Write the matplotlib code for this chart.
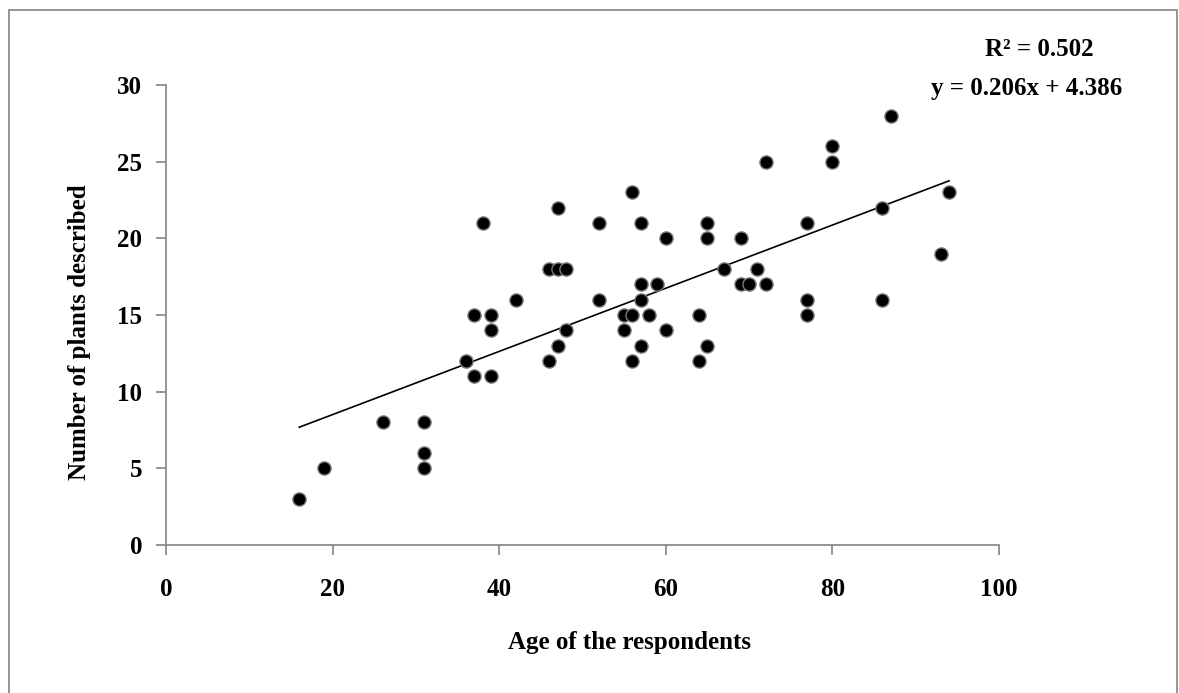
import matplotlib.pyplot as plt
from matplotlib.patches import Rectangle

# age of respondent vs number of plants described
ages = [16, 19, 26, 31, 31, 31, 36, 37, 37, 38, 39, 39, 39, 42,
        46, 47, 48, 47, 46, 47, 48, 52, 52, 55, 55, 56, 56, 56,
        57, 57, 57, 57, 58, 59, 60, 60, 64, 64, 65, 65, 65, 67,
        69, 69, 70, 71, 72, 72, 77, 77, 77, 80, 80, 86, 86, 87, 93, 94]
plants = [3, 5, 8, 8, 6, 5, 12, 11, 15, 21, 15, 14, 11, 16,
          18, 18, 18, 22, 12, 13, 14, 21, 16, 15, 14, 15, 12, 23,
          21, 17, 16, 13, 15, 17, 20, 14, 15, 12, 21, 20, 13, 18,
          20, 17, 17, 18, 25, 17, 21, 16, 15, 26, 25, 22, 16, 28, 19, 23]

slope = 0.206
intercept = 4.386
r2 = 0.502

x_ticks = [0, 20, 40, 60, 80, 100]
y_ticks = [0, 5, 10, 15, 20, 25, 30]

plt.rcParams['font.family'] = ['Liberation Serif', 'DejaVu Serif']
plt.rcParams['font.weight'] = 'bold'

W, H = 1179, 693
fs = 18
fig = plt.figure(figsize=(W / 100, H / 100), dpi=100)
ax = fig.add_axes([166 / W, 1 - 545 / H, (999 - 166) / W, (545 - 85) / H])

# outer frame
fig.patches.append(Rectangle((9 / W, -0.01), (1177 - 9) / W, 1 - 10 / H + 0.01,
                             transform=fig.transFigure, fill=False,
                             edgecolor='#8c8c8c', linewidth=1.3))

xs = [min(ages), max(ages)]
ax.plot(xs, [slope * v + intercept for v in xs], color='black', linewidth=1.2, zorder=2)
ax.scatter(ages, plants, s=90, color='black', edgecolors='#7a7a7a', linewidths=1.0, zorder=3)

ax.set_xlim(0, 100)
ax.set_ylim(0, 30)
ax.set_xticks(x_ticks)
ax.set_yticks(y_ticks)
for s in ['top', 'right']:
    ax.spines[s].set_visible(False)
for s in ['left', 'bottom']:
    ax.spines[s].set_color('#8c8c8c')
    ax.spines[s].set_linewidth(1.3)
ax.tick_params(axis='both', colors='#8c8c8c', labelcolor='black', labelsize=fs,
               length=7, width=1.3, direction='out')
ax.tick_params(axis='x', pad=17)
ax.tick_params(axis='y', pad=10)
for lab in ax.get_xticklabels() + ax.get_yticklabels():
    lab.set_fontweight('bold')

fig.text(630 / W, 1 - 643 / H, 'Age of the respondents', ha='center', va='center',
         fontsize=fs, fontweight='bold')
fig.text(80 / W, 1 - 332 / H, 'Number of plants described', ha='center', va='center',
         rotation=90, fontsize=fs, fontweight='bold')
fig.text(1039 / W, 1 - 49 / H, f'R² = {r2:.3f}', ha='center', va='center',
         fontsize=fs, fontweight='bold')
fig.text(1027 / W, 1 - 89 / H, f'y = {slope:.3f}x + {intercept:.3f}', ha='center', va='center',
         fontsize=fs, fontweight='bold')

fig.savefig('out.png', dpi=100)
